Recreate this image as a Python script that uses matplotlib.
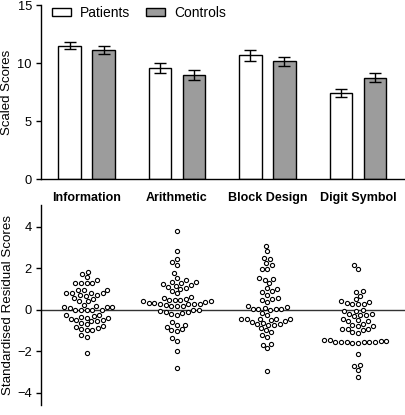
import numpy as np
import matplotlib
matplotlib.use("Agg")
import matplotlib.pyplot as plt
from matplotlib.patches import Patch

plt.rcParams['font.family'] = ['Liberation Sans', 'DejaVu Sans']

categories = ["Information", "Arithmetic", "Block Design", "Digit Symbol"]
series_names = ["Patients", "Controls"]
patients_mean = [11.47, 9.60, 10.66, 7.39]
patients_err = [0.30, 0.43, 0.49, 0.36]
controls_mean = [11.12, 8.97, 10.14, 8.71]
controls_err = [0.33, 0.40, 0.39, 0.39]

resid_information = [1.84, 1.71, 1.57, 1.44, 1.28, 1.28, 1.28, 1.28, 0.96, 0.96, 0.93,
                     0.80, 0.80, 0.78, 0.80, 0.70, 0.68, 0.70, 0.55, 0.50, 0.42, 0.42,
                     0.24, 0.20, 0.12, 0.10, 0.12, 0.14, 0.0, 0.0, 0.0, 0.0, 0.0,
                     -0.25, -0.30, -0.27, -0.35, -0.40, -0.48, -0.45, -0.40,
                     -0.50, -0.55, -0.55, -0.65, -0.70, -0.80, -0.85, -0.90,
                     -0.95, -1.00, -1.00, -1.23, -1.33, -2.08]
resid_arithmetic = [3.81, 2.83, 2.29, 2.15, 2.43, 1.75, 1.52, 1.41, 1.35, 1.28, 1.20,
                    1.25, 1.35, 1.10, 1.15, 1.00, 1.05, 0.90, 0.78,
                    0.60, 0.50, 0.45, 0.42, 0.40, 0.45, 0.45, 0.55,
                    0.35, 0.30, 0.28, 0.25, 0.25, 0.30, 0.28,
                    0.20, 0.20, 0.20, 0.22,
                    0.0, -0.05, -0.10, -0.20, -0.25, -0.15, -0.10, -0.02,
                    -0.60, -0.75, -0.72, -0.85, -1.00, -1.05, -0.95,
                    -1.38, -1.52, -2.00, -2.82]
resid_block = [3.09, 2.83, 2.50, 2.45, 2.25, 2.15, 1.97, 1.97, 1.55, 1.50, 1.45, 1.30,
               1.05, 1.00, 0.90, 0.85, 0.72, 0.55, 0.50, 0.45, 0.35,
               0.20, 0.15, 0.10, 0.05, 0.05, 0.05, 0.02, 0.0, -0.15, -0.25,
               -0.43, -0.43, -0.43, -0.43, -0.43, -0.50, -0.55, -0.60, -0.65,
               -0.70, -0.75, -0.75, -0.70, -0.90, -1.00, -1.10, -1.20, -1.30,
               -1.65, -1.70, -1.85, -2.95]
resid_digit = [2.17, 1.97, 0.90, 0.85, 0.65, 0.50, 0.40, 0.30, 0.25, 0.25, 0.28, 0.35,
               -0.05, 0.0, -0.05, -0.20, -0.25, -0.25, -0.20, -0.30,
               -0.45, -0.50, -0.55, -0.55, -0.70, -0.75, -0.80, -0.80,
               -0.95, -1.00, -0.95, -0.95, -1.10, -1.15, -1.45, -1.45,
               -1.52, -1.55, -1.57, -1.58, -1.60, -1.60, -1.58, -1.57, -1.55, -1.52,
               -2.15, -2.70, -2.65, -2.90, -3.25]
residuals = [resid_information, resid_arithmetic, resid_block, resid_digit]

W, H = 405, 415
fig = plt.figure(figsize=(W / 100, H / 100), dpi=100)

def fx(px):
    return px / W

def fy(py):
    return 1 - py / H

# ---------- top panel ----------
ax1 = fig.add_axes([fx(41), fy(179), fx(405) - fx(41), fy(5) - fy(179)])
x = np.arange(len(categories))
bw = 0.245
off = 0.188
ax1.bar(x - off, patients_mean, bw, color='white', edgecolor='black', linewidth=1.0,
        yerr=patients_err, capsize=4.3, error_kw=dict(elinewidth=1.0, capthick=1.0, ecolor='black'),
        label=series_names[0])
ax1.bar(x + off, controls_mean, bw, color='#9c9c9c', edgecolor='black', linewidth=1.0,
        yerr=controls_err, capsize=4.3, error_kw=dict(elinewidth=1.0, capthick=1.0, ecolor='black'),
        label=series_names[1])
ax1.set_xlim(-0.503, 3.52)
ax1.set_ylim(0, 15)
ax1.set_yticks([0, 5, 10, 15])
ax1.set_xticks([])
for s in ['top', 'right']:
    ax1.spines[s].set_visible(False)
ax1.spines['left'].set_linewidth(1.0)
ax1.spines['bottom'].set_linewidth(1.0)
ax1.tick_params(axis='y', direction='out', length=3.5, width=1.0, labelsize=9.3, pad=3)
ax1.set_ylabel("Scaled Scores", fontsize=9.5)
ax1.yaxis.set_label_coords((13 - 41) / 364, 0.5)
handles = [Patch(facecolor='white', edgecolor='black', linewidth=1.0),
           Patch(facecolor='#9c9c9c', edgecolor='black', linewidth=1.0)]
ax1.legend(handles, series_names, loc='center left', bbox_to_anchor=(0.030, 0.954),
           ncol=2, frameon=False, fontsize=10, handlelength=1.37, handleheight=0.58,
           handletextpad=0.65, columnspacing=1.15, borderpad=0, borderaxespad=0)

# ---------- bottom panel ----------
ax2 = fig.add_axes([fx(41), fy(405), fx(405) - fx(41), fy(205) - fy(405)])
ylo, yhi = -4.6, 5.05
ax2.set_xlim(-0.503, 3.52)
ax2.set_ylim(ylo, yhi)
xpx = 364 / (3.52 + 0.503)   # pixels per x unit
ypx = 200 / (yhi - ylo)      # pixels per y unit
d = 5.7                      # min spacing between marker centres in px

def swarm(vals):
    vals = np.asarray(vals, float)
    order = np.argsort(vals)
    placed = []
    offs = np.zeros(len(vals))
    for i in order:
        yp = vals[i] * ypx
        cands = [0.0]
        for (xo, yo) in placed:
            dy = abs(yp - yo)
            if dy < d:
                dx = np.sqrt(d * d - dy * dy)
                cands += [xo + dx, xo - dx]
        cands = sorted(cands, key=lambda c: (abs(c), c))
        for c in cands:
            ok = True
            for (xo, yo) in placed:
                if (c - xo) ** 2 + (yp - yo) ** 2 < d * d - 1e-6:
                    ok = False
                    break
            if ok:
                break
        placed.append((c, yp))
        offs[i] = c / xpx
    return offs

ax2.axhline(0, color='#333333', linewidth=1.0, zorder=1)
for i, vals in enumerate(residuals):
    offs = swarm(vals)
    ax2.scatter(i + offs, vals, s=9, facecolors='white', edgecolors='black',
                linewidths=0.8, zorder=3, clip_on=False)
    ax2.text(i, 5.38, categories[i], ha='center', va='center', fontsize=9,
             fontweight='bold', clip_on=False)

ax2.set_yticks([-4, -2, 0, 2, 4])
ax2.set_xticks([])
for s in ['top', 'right', 'bottom']:
    ax2.spines[s].set_visible(False)
ax2.spines['left'].set_linewidth(1.0)
ax2.tick_params(axis='y', direction='out', length=3.5, width=1.0, labelsize=9.3, pad=3)
ax2.set_ylabel("Standardised Residual Scores", fontsize=9.6)
ax2.yaxis.set_label_coords((14 - 41) / 364, 0.5)

fig.savefig("out.png", dpi=100)
